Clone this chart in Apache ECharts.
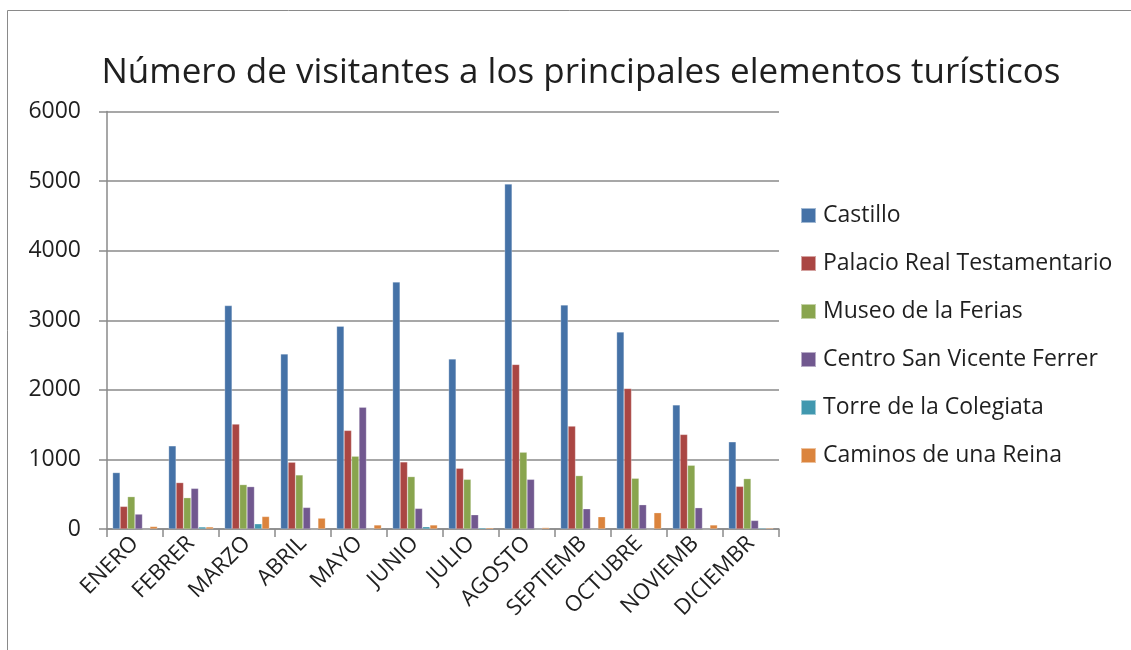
<!DOCTYPE html>
<html>
<head>
<meta charset="utf-8">
<script src="https://cdn.jsdelivr.net/npm/echarts@6/dist/echarts.min.js"></script>
<style>html,body{margin:0;padding:0;background:#fff}#c{width:1131px;height:650px}</style>
</head>
<body>
<div id="c"></div>
<script>
const categories = ["ENERO","FEBRER","MARZO","ABRIL","MAYO","JUNIO","JULIO","AGOSTO","SEPTIEMB","OCTUBRE","NOVIEMB","DICIEMBR"];
const seriesNames = ["Castillo","Palacio Real Testamentario","Museo de la Ferias","Centro San Vicente Ferrer","Torre de la Colegiata","Caminos de una Reina"];
const castillo = [811, 1195, 3211, 2516, 2914, 3550, 2444, 4957, 3220, 2831, 1783, 1253];
const palacio  = [325, 667, 1508, 960, 1417, 964, 873, 2365, 1479, 2020, 1359, 613];
const museo    = [465, 450, 638, 777, 1046, 753, 714, 1104, 767, 729, 916, 724];
const centro   = [214, 584, 609, 310, 1750, 296, 205, 714, 291, 349, 306, 123];
const torre    = [0, 30, 75, 0, 0, 32, 18, 0, 0, 0, 0, 15];
const caminos  = [36, 30, 180, 156, 58, 58, 18, 20, 176, 234, 58, 15];
const yTicks = [0, 1000, 2000, 3000, 4000, 5000, 6000];
const colors = ["#4572A7","#AA4643","#89A54E","#71588F","#4198AF","#DB843D"];
const seriesData = [castillo, palacio, museo, centro, torre, caminos];

const FONT = "'Open Sans', sans-serif";
const chart = echarts.init(document.getElementById('c'), null, {renderer:'canvas'});
chart.setOption({
  animation: false,
  backgroundColor: '#fff',
  color: colors,
  title: {
    text: 'Número de visitantes a los principales elementos turísticos',
    left: 576, top: 51, textAlign: 'center',
    textStyle: {fontFamily: FONT, fontSize: 35, fontWeight: 'normal', color: '#1f1f1f'}
  },
  graphic: [{
    type: 'rect', shape: {x: 7.5, y: 10.5, width: 1140, height: 660},
    style: {fill: 'none', stroke: '#8a8a8a', lineWidth: 1}, silent: true
  }],
  legend: {
    orient: 'vertical', left: 800, top: 204, padding: 0,
    itemWidth: 15, itemHeight: 15, itemGap: 25,
    icon: 'rect',
    data: seriesNames,
    textStyle: {fontFamily: FONT, fontSize: 23, color: '#1f1f1f', lineHeight: 20, padding: [0,0,0,2]}
  },
  grid: {left: 107, right: 352, top: 111.5, bottom: 121, containLabel: false},
  xAxis: {
    type: 'category', data: categories,
    axisLine: {lineStyle: {color: '#8a8a8a', width: 1.5}},
    axisTick: {show: true, length: 8, lineStyle: {color: '#8a8a8a', width: 1.5}},
    axisLabel: {rotate: 45, fontFamily: FONT, fontSize: 22, color: '#1f1f1f', margin: 11, interval: 0}
  },
  yAxis: {
    type: 'value', min: 0, max: 6000, interval: 1000,
    axisLine: {show: true, lineStyle: {color: '#8a8a8a', width: 1.5}},
    axisTick: {show: true, length: 8, lineStyle: {color: '#8a8a8a', width: 1.5}},
    splitLine: {lineStyle: {color: '#8a8a8a', width: 1.5}},
    axisLabel: {fontFamily: FONT, fontSize: 23, color: '#1f1f1f', margin: 26,
      formatter: v => yTicks.includes(v) ? String(v) : ''}
  },
  series: seriesNames.map((n, i) => ({
    name: n, type: 'bar', data: seriesData[i],
    barGap: '0%', barCategoryGap: '20%',
    itemStyle: {color: colors[i], borderColor: 'rgba(255,255,255,0.5)', borderWidth: 0.5}
  }))
});
</script>
</body>
</html>
